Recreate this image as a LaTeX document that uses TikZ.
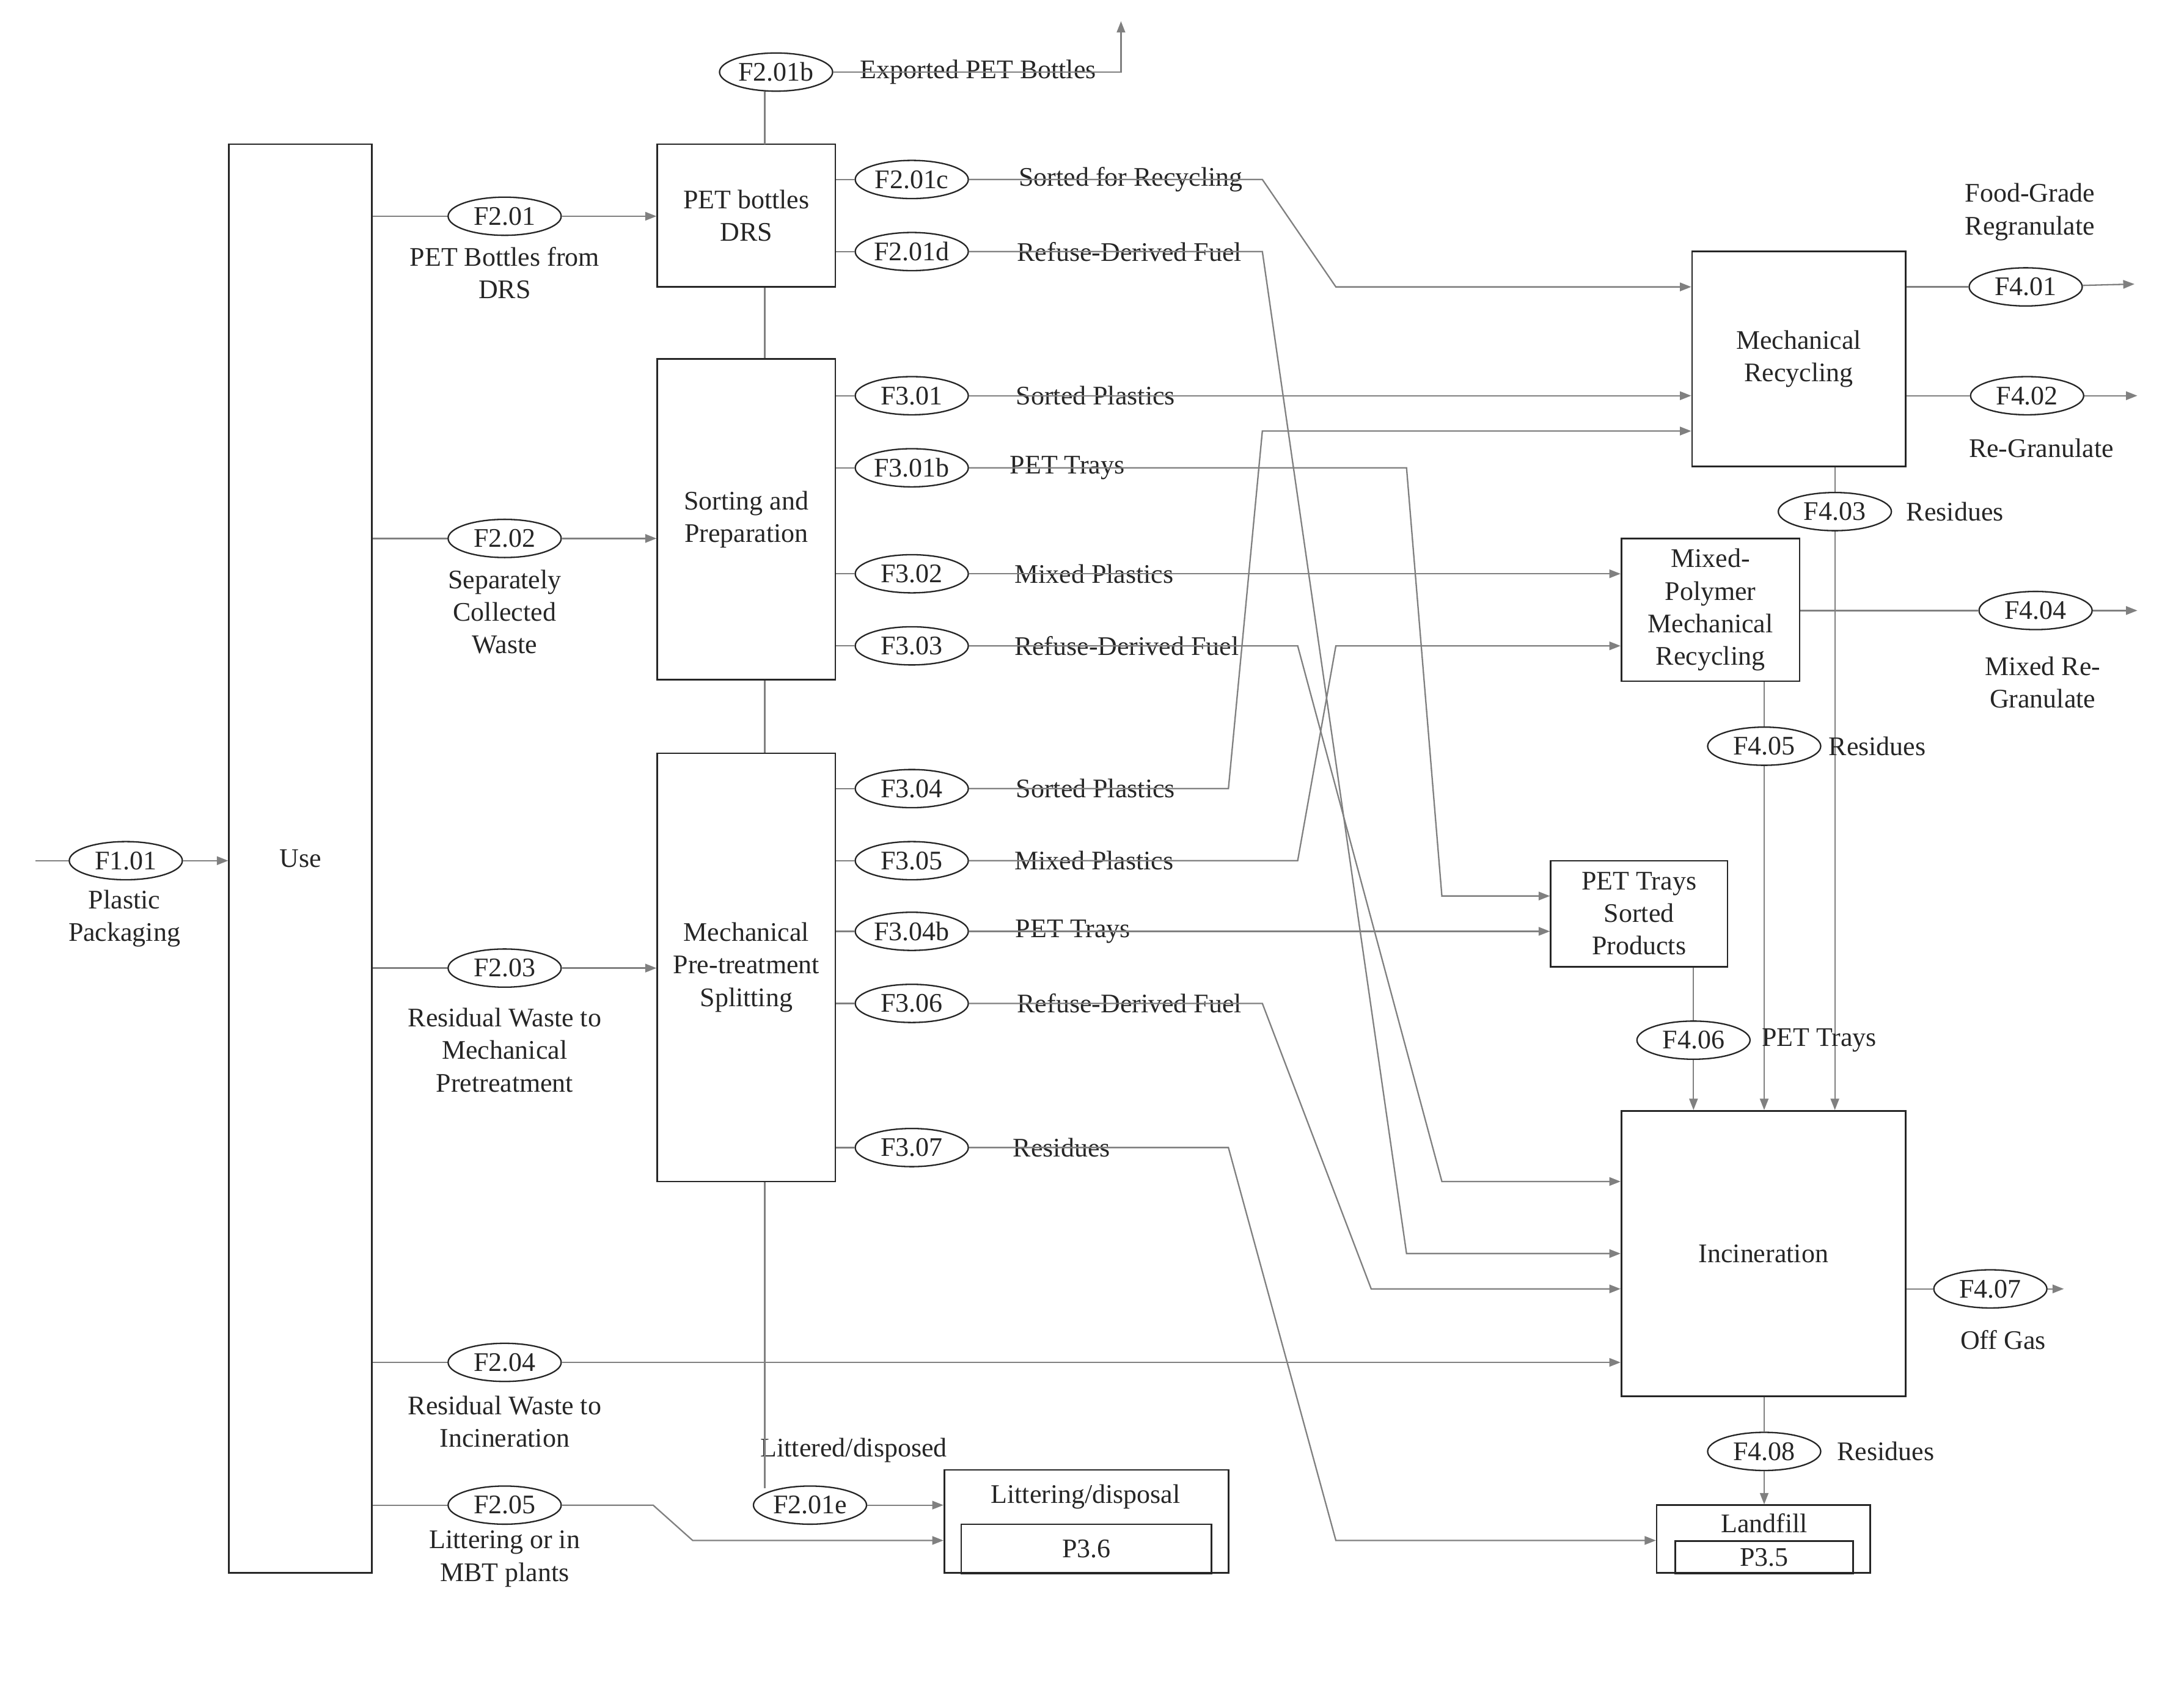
\documentclass[tikz,border=0pt]{standalone}
\usepackage{fontspec}
\setmainfont{Liberation Serif}
\usetikzlibrary{shapes.geometric,arrows.meta}
\begin{document}
\begin{tikzpicture}[x=1pt,y=-1pt,
  every node/.style={font=\fontsize{19}{23}\selectfont,text=black!85},
  box/.style={draw=black!85,line width=1.1pt,inner sep=0pt,align=center},
  fl/.style={draw=black!85,ellipse,line width=1pt,minimum width=80pt,minimum height=27pt,inner sep=0pt},
  lbl/.style={align=center},
  ln/.style={draw=black!50,line width=1pt},
  ar/.style={ln,-{Triangle[length=8pt,width=6pt]}}]
\useasboundingbox (0,0) rectangle (1545,1194);
% boxes
\node[box,minimum width=101pt,minimum height=1011pt] (use) at (212.5,607.5) {Use};
\node[box,minimum width=126pt,minimum height=101pt] (drs) at (528,152.5) {PET bottles\\DRS};
\node[box,minimum width=126pt,minimum height=227pt] (sort) at (528,367.5) {Sorting and\\Preparation};
\node[box,minimum width=126pt,minimum height=303pt] (mech) at (528,684.5) {Mechanical\\Pre-treatment\\Splitting};
\node[box,minimum width=151pt,minimum height=152pt] (mr) at (1272.5,254) {Mechanical\\Recycling};
\node[box,minimum width=126pt,minimum height=101pt] (mp) at (1210,431.5) {Mixed-\\Polymer\\Mechanical\\Recycling};
\node[box,minimum width=125pt,minimum height=75pt] (pt) at (1159.5,646.5) {PET Trays\\Sorted\\Products};
\node[box,minimum width=201pt,minimum height=202pt] (inc) at (1247.5,887) {Incineration};
\node[box,minimum width=201pt,minimum height=73pt] (lit) at (768.5,1076.5) {};
\node[box,minimum width=177pt,minimum height=35pt,anchor=north] (litin) at (768.5,1078) {P3.6};
\node (littxt) at (768,1059) {Littering/disposal};
\node[box,minimum width=151pt,minimum height=48pt] (lf) at (1247.5,1089) {};
\node[box,minimum width=126pt,minimum height=23pt,anchor=north] (lfin) at (1248,1090) {P3.5};
\node (lftxt) at (1248,1078) {Landfill};
% flows
\node[fl] (f101) at (89,609) {F1.01};
\node[lbl] at (88,650) {Plastic\\Packaging};
\coordinate (s101) at (25,609);
\draw[ln] (s101) -- (f101); \draw[ar] (f101) -- (use.west|-f101);

\node[fl] (f201) at (357,153) {F2.01};
\node[lbl] at (357,193) {PET Bottles from\\DRS};
\node[fl] (f202) at (357,381) {F2.02};
\node[lbl] at (357,433) {Separately\\Collected\\Waste};
\node[fl] (f203) at (357,685) {F2.03};
\node[lbl] at (357,743) {Residual Waste to\\Mechanical\\Pretreatment};
\node[fl] (f204) at (357,964) {F2.04};
\node[lbl] at (357,1006) {Residual Waste to\\Incineration};
\node[fl] (f205) at (357,1065) {F2.05};
\node[lbl] at (357,1103) {Littering or in\\MBT plants};
\draw[ln] (use.east|-f201) -- (f201); \draw[ar] (f201) -- (drs.west|-f201);
\draw[ln] (use.east|-f202) -- (f202); \draw[ar] (f202) -- (sort.west|-f202);
\draw[ln] (use.east|-f203) -- (f203); \draw[ar] (f203) -- (mech.west|-f203);
\draw[ln] (use.east|-f204) -- (f204); \draw[ar] (f204) -- (inc.west|-f204);
\draw[ln] (use.east|-f205) -- (f205); \draw[ar] (f205) -- (462,1065) -- (490,1090) -- (lit.west|-0,1090);

% vertical spine
\node[fl] (f201b) at (549,51) {F2.01b};
\node (t201b) at (692,51) {Exported PET Bottles};
\coordinate (e201b) at (793,15);
\draw[ln] (541,102) -- (541,65);
\draw[ar] (f201b) -- (793,51) -- (e201b);
\draw[ln] (drs.south-|541,0) -- (sort.north-|541,0);
\draw[ln] (sort.south-|541,0) -- (mech.north-|541,0);
\node[fl] (f201e) at (573,1065) {F2.01e};
\node at (604,1026) {Littered/disposed};
\draw[ln] (mech.south-|541,0) -- (541,1053);
\draw[ar] (f201e) -- (lit.west|-f201e);

% DRS outputs
\node[fl] (f201c) at (645,127) {F2.01c};
\node (t201c) at (800,127) {Sorted for Recycling};
\node[fl] (f201d) at (645,178) {F2.01d};
\node (t201d) at (799,178) {Refuse-Derived Fuel};
\draw[ln] (drs.east|-f201c) -- (f201c); \draw[ar] (f201c) -- (893,127) -- (945,203) -- (mr.west|-0,203);
\draw[ln] (drs.east|-f201d) -- (f201d); \draw[ar] (f201d) -- (893,178) -- (995,887) -- (inc.west|-0,887);

% Sorting outputs
\node[fl] (f301) at (645,280) {F3.01};   \node at (775,280) {Sorted Plastics};
\node[fl] (f301b) at (645,331) {F3.01b}; \node at (755,331) {PET Trays};
\node[fl] (f302) at (645,406) {F3.02};   \node at (774,406) {Mixed Plastics};
\node[fl] (f303) at (645,457) {F3.03};   \node at (797,457) {Refuse-Derived Fuel};
\draw[ln] (sort.east|-f301) -- (f301); \draw[ar] (f301) -- (mr.west|-f301);
\draw[ln] (sort.east|-f301b) -- (f301b); \draw[ar] (f301b) -- (995,331) -- (1020,634) -- (pt.west|-0,634);
\draw[ln] (sort.east|-f302) -- (f302); \draw[ar] (f302) -- (mp.west|-f302);
\draw[ln] (sort.east|-f303) -- (f303); \draw[ar] (f303) -- (918,457) -- (1020,836) -- (inc.west|-0,836);

% Mech outputs
\node[fl] (f304) at (645,558) {F3.04};   \node at (775,558) {Sorted Plastics};
\node[fl] (f305) at (645,609) {F3.05};   \node at (774,609) {Mixed Plastics};
\node[fl] (f304b) at (645,659) {F3.04b}; \node at (759,659) {PET Trays};
\node[fl] (f306) at (645,710) {F3.06};   \node at (799,710) {Refuse-Derived Fuel};
\node[fl] (f307) at (645,812) {F3.07};   \node at (751,812) {Residues};
\draw[ln] (mech.east|-f304) -- (f304); \draw[ar] (f304) -- (869,558) -- (893,305) -- (mr.west|-0,305);
\draw[ln] (mech.east|-f305) -- (f305); \draw[ar] (f305) -- (918,609) -- (945,457) -- (mp.west|-0,457);
\draw[ln] (mech.east|-f304b) -- (f304b); \draw[ar] (f304b) -- (pt.west|-f304b);
\draw[ln] (mech.east|-f306) -- (f306); \draw[ar] (f306) -- (893,710) -- (970,912) -- (inc.west|-0,912);
\draw[ln] (mech.east|-f307) -- (f307); \draw[ar] (f307) -- (869,812) -- (945,1090) -- (lf.west|-0,1090);

% Stage 4
\node[fl] (f401) at (1433,203) {F4.01};
\node[lbl] at (1436,150) {Food-Grade\\Regranulate};
\coordinate (e401) at (1510,201);
\draw[ln] (mr.east|-f401) -- (f401); \draw[ar] (f401) -- (e401);
\node[fl] (f402) at (1434,280) {F4.02};
\node at (1444,317) {Re-Granulate};
\coordinate (e402) at (1512,280);
\draw[ln] (mr.east|-f402) -- (f402); \draw[ar] (f402) -- (e402);
\node[fl] (f403) at (1298,362) {F4.03};
\node at (1383,362) {Residues};
\draw[ln] (mr.south-|f403) -- (f403); \draw[ar] (f403) -- (inc.north-|f403);
\node[fl] (f404) at (1440,432) {F4.04};
\node[lbl] at (1445,483) {Mixed Re-\\Granulate};
\coordinate (e404) at (1512,432);
\draw[ln] (mp.east|-f404) -- (f404); \draw[ar] (f404) -- (e404);
\node[fl] (f405) at (1248,528) {F4.05};
\node at (1328,528) {Residues};
\draw[ln] (mp.south-|f405) -- (f405); \draw[ar] (f405) -- (inc.north-|f405);
\node[fl] (f406) at (1198,736) {F4.06};
\node at (1287,736) {PET Trays};
\draw[ln] (pt.south-|f406) -- (f406); \draw[ar] (f406) -- (inc.north-|f406);
\node[fl] (f407) at (1408,912) {F4.07};
\node at (1417,948) {Off Gas};
\coordinate (e407) at (1460,912);
\draw[ln] (inc.east|-f407) -- (f407); \draw[ar] (f407) -- (e407);
\node[fl] (f408) at (1248,1027) {F4.08};
\node at (1334,1027) {Residues};
\draw[ln] (inc.south-|f408) -- (f408); \draw[ar] (f408) -- (lf.north-|f408);
\end{tikzpicture}
\end{document}
